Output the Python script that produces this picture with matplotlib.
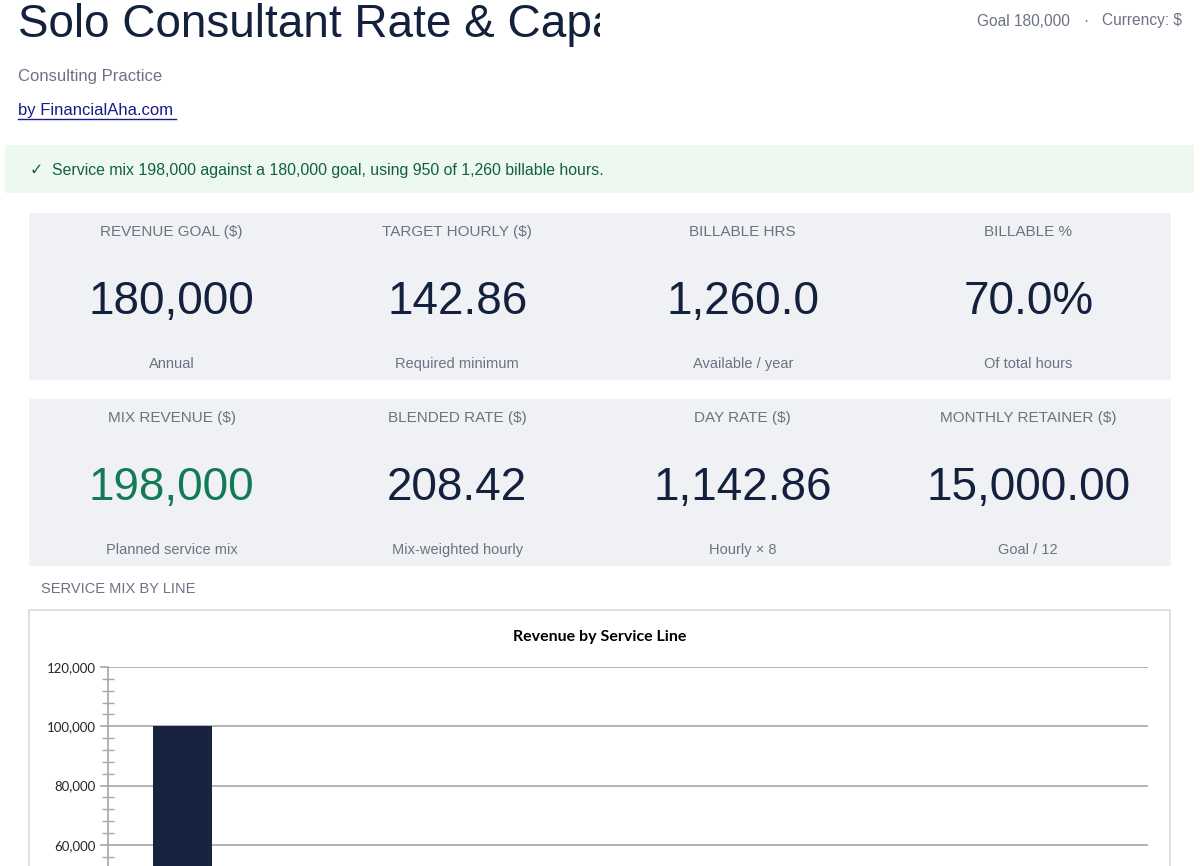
import matplotlib.pyplot as plt
from matplotlib.patches import Rectangle
from matplotlib.ticker import FuncFormatter, MultipleLocator

W, H = 1200, 866

# header texts
TITLE = "Solo Consultant Rate & Capacity Planner"
SUBTITLE = "Consulting Practice"
BYLINE = "by FinancialAha.com"
HEADER_RIGHT = ["Goal 180,000", "\u00b7", "Currency: $"]
BANNER = "\u2713  Service mix 198,000 against a 180,000 goal, using 950 of 1,260 billable hours."

# KPI cards
ROW1_LABELS = ["REVENUE GOAL ($)", "TARGET HOURLY ($)", "BILLABLE HRS", "BILLABLE %"]
ROW1_VALUES = ["180,000", "142.86", "1,260.0", "70.0%"]
ROW1_NOTES = ["Annual", "Required minimum", "Available / year", "Of total hours"]
ROW2_LABELS = ["MIX REVENUE ($)", "BLENDED RATE ($)", "DAY RATE ($)", "MONTHLY RETAINER ($)"]
ROW2_VALUES = ["198,000", "208.42", "1,142.86", "15,000.00"]
ROW2_NOTES = ["Planned service mix", "Mix-weighted hourly", "Hourly \u00d7 8", "Goal / 12"]

# chart data (only the first bar is visible in the crop)
SERVICE_LINES = ["Strategy", "Workshops", "Advisory", "Audits", "Training", "Coaching", "Other"]
SERVICE_REVENUE = [100000, 36000, 24000, 18000, 12000, 8000, 0]
VISIBLE_MIN = 60000  # lowest tick label inside the crop

NAVY = "#14213d"
GRAY = "#6b7280"
GREEN = "#137a56"
CARD_BG = "#eff1f5"
FONT = "Liberation Sans"


def fx(px):
    return px / W


def fy(py):
    return 1 - py / H


fig = plt.figure(figsize=(W / 100, H / 100), dpi=100)
fig.patch.set_facecolor("white")

# title, clipped like the reference
tax = fig.add_axes([0, fy(60), fx(600), 60 / H])
tax.set_axis_off()
tax.set_xlim(0, 600)
tax.set_ylim(60, 0)
tax.text(18, 25, TITLE, fontsize=33, color=NAVY, family=FONT, va="center", ha="left", clip_on=True)

fig.text(fx(18), fy(76), SUBTITLE, fontsize=12, color=GRAY, family=FONT, va="center")
fig.text(fx(18), fy(110), BYLINE, fontsize=12, color="#1a1a8c", family=FONT, va="center")
fig.add_artist(plt.Line2D([fx(18), fx(176)], [fy(119), fy(119)], color="#1a1a8c", lw=1))

fig.text(fx(1070), fy(21), HEADER_RIGHT[0], fontsize=11.2, color=GRAY, family=FONT, ha="right", va="center")
fig.text(fx(1086), fy(21), HEADER_RIGHT[1], fontsize=11.2, color=GRAY, family=FONT, ha="center", va="center")
fig.text(fx(1182), fy(21), HEADER_RIGHT[2], fontsize=11.2, color=GRAY, family=FONT, ha="right", va="center")

# status banner
fig.add_artist(Rectangle((fx(5), fy(193)), fx(1189), 48 / H, transform=fig.transFigure,
                         facecolor="#edf8f1", edgecolor="none", zorder=-2))
fig.text(fx(30), fy(171), BANNER, fontsize=11.4, color="#13603f",
         family=["Liberation Sans", "DejaVu Sans"], va="center")


def draw_cards(top, bottom, labels, values, notes, value_colors):
    fig.add_artist(Rectangle((fx(29), fy(bottom)), fx(1142), (bottom - top) / H,
                             transform=fig.transFigure, facecolor=CARD_BG, edgecolor="none", zorder=-2))
    col_w = 1142 / 4
    for i, (lab, val, note) in enumerate(zip(labels, values, notes)):
        cx = fx(29 + col_w * (i + 0.5))
        fig.text(cx, fy(top + 19), lab, fontsize=11, color=GRAY, family=FONT, ha="center", va="center")
        fig.text(cx, fy(top + 89), val, fontsize=33, color=value_colors[i], family=FONT,
                 ha="center", va="center")
        fig.text(cx, fy(top + 151), note, fontsize=10.5, color=GRAY, family=FONT, ha="center", va="center")


draw_cards(213, 380, ROW1_LABELS, ROW1_VALUES, ROW1_NOTES, [NAVY] * 4)
draw_cards(399, 566, ROW2_LABELS, ROW2_VALUES, ROW2_NOTES, [GREEN, NAVY, NAVY, NAVY])

fig.text(fx(41), fy(589), "SERVICE MIX BY LINE", fontsize=10.5, color=GRAY, family=FONT, va="center")

# chart frame (runs past the bottom of the picture), kept under the axes
fig.add_artist(Rectangle((fx(29), fy(1100)), fx(1141), (1100 - 610) / H, transform=fig.transFigure,
                         facecolor="white", edgecolor="#d9d9d9", lw=1.2, zorder=-1))
fig.text(fx(600), fy(637), "Revenue by Service Line", fontsize=11.5, fontweight="bold",
         color="black", family="Lato", ha="center", va="center")

# axes: 120,000 at y=667, 20,000 per 59.3 px, so 0 lands at ~1023 px
y_top, y_zero = 667, 667 + 6 * 59.3
ax = fig.add_axes([fx(108), fy(y_zero), fx(1148 - 108), (y_zero - y_top) / H])
ax.set_facecolor("none")
ax.bar(range(len(SERVICE_LINES)), SERVICE_REVENUE, width=0.4, color="#17233f", zorder=3)
ax.set_xlim(-0.5, len(SERVICE_LINES) - 0.5)
ax.set_ylim(0, 120000)
ax.yaxis.set_major_locator(MultipleLocator(20000))
ax.yaxis.set_minor_locator(MultipleLocator(4000))
ax.yaxis.set_major_formatter(FuncFormatter(lambda v, _: f"{v:,.0f}" if v >= VISIBLE_MIN else ""))
ax.grid(axis="y", which="major", color="#a6a6a6", lw=1.2, zorder=0)
for side in ["top", "right", "bottom"]:
    ax.spines[side].set_visible(False)
ax.spines["left"].set_color("#a6a6a6")
ax.spines["left"].set_linewidth(1.2)
ax.tick_params(axis="y", which="major", direction="out", length=6, color="#a6a6a6", width=1.2,
               labelsize=9.5, labelcolor="#262626", pad=3)
ax.tick_params(axis="y", which="minor", direction="inout", length=8, color="#a6a6a6", width=1.0)
for lab in ax.get_yticklabels():
    lab.set_family("Lato")
ax.set_xticks([])

fig.savefig("out.png", dpi=100)
